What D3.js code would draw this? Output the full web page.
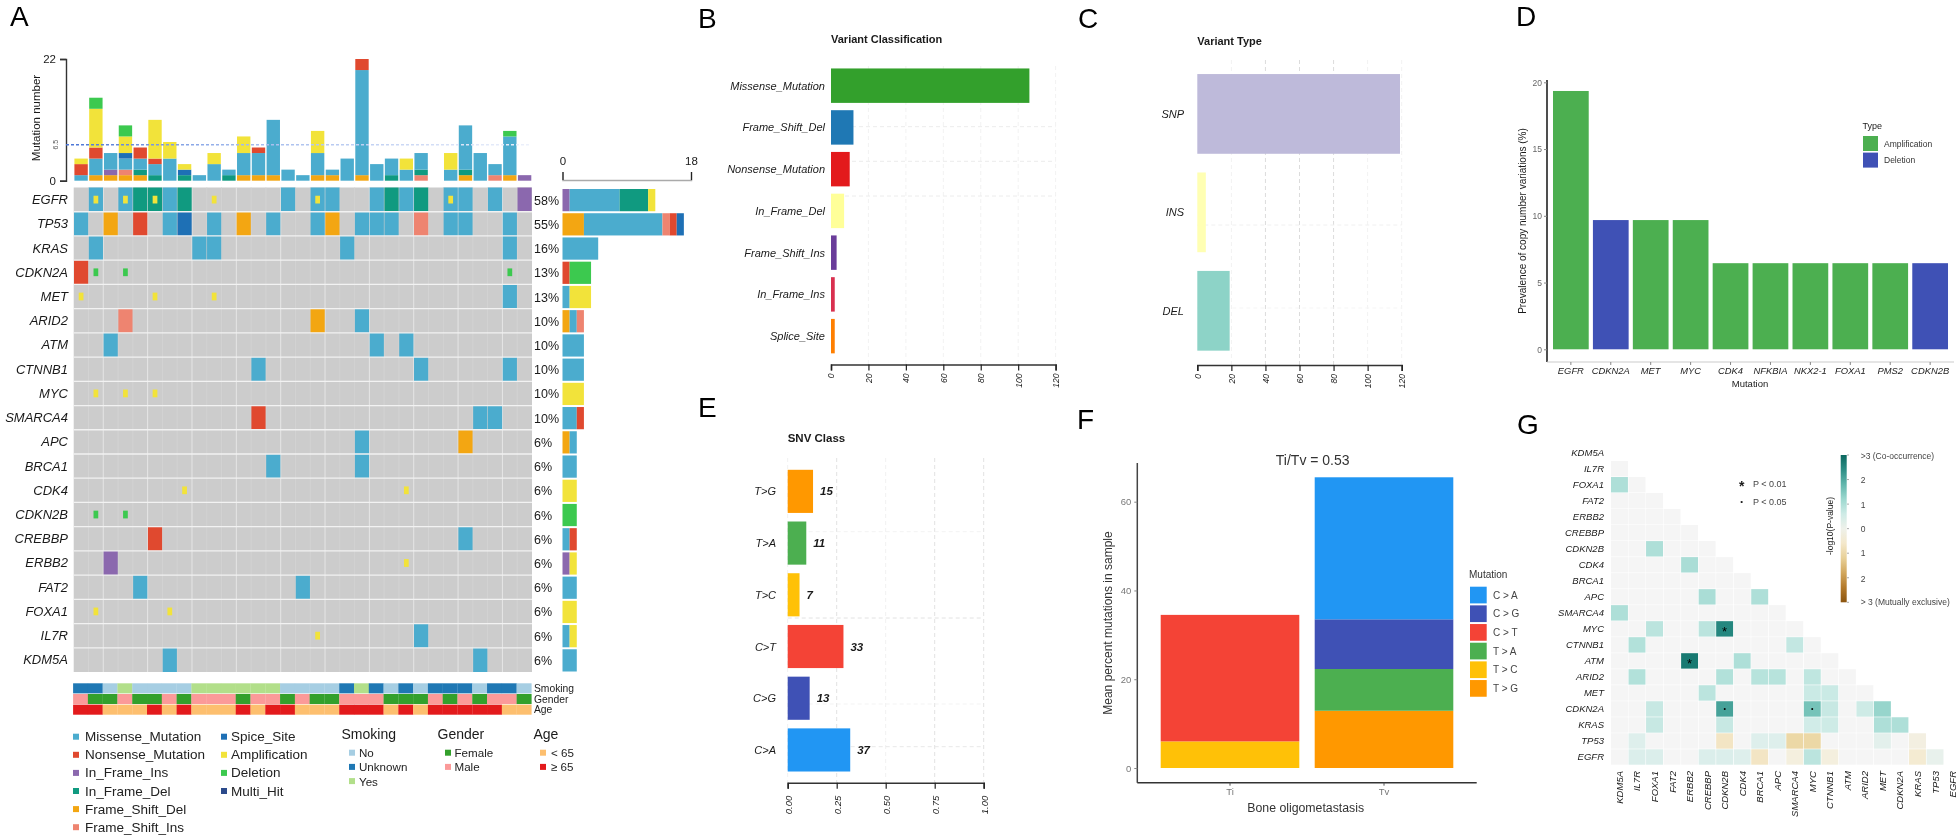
<!DOCTYPE html>
<html><head><meta charset="utf-8">
<script src="https://cdn.jsdelivr.net/npm/d3@7/dist/d3.min.js"></script>
<style>
html,body{margin:0;padding:0;background:#fff}
svg{display:block;filter:blur(0.45px)}
text{font-family:"Liberation Sans",Arial,sans-serif;fill:#1a1a1a}
</style></head><body><svg id="c" width="1960" height="840"></svg>
<script>
// ---------- Panel A data ----------
const genes = ["EGFR","TP53","KRAS","CDKN2A","MET","ARID2","ATM","CTNNB1","MYC","SMARCA4","APC","BRCA1","CDK4","CDKN2B","CREBBP","ERBB2","FAT2","FOXA1","IL7R","KDM5A"];
const genePct = ["58%","55%","16%","13%","13%","10%","10%","10%","10%","10%","6%","6%","6%","6%","6%","6%","6%","6%","6%","6%"];
const variantNames = ["Missense_Mutation","Nonsense_Mutation","In_Frame_Ins","In_Frame_Del","Frame_Shift_Del","Frame_Shift_Ins","Splice_Site","Amplification","Deletion","Multi_Hit"];
const variantColors = ["#4bacce","#e0492f","#8b68ae","#109a80","#f3a612","#ee8470","#1e70b5","#f2e33a","#3cc94f","#2b4a8b"];
// per-gene cells: [sample column, variant]
const cellsEGFR = [[1,"Missense_Mutation"],[3,"Missense_Mutation"],[4,"In_Frame_Del"],[5,"In_Frame_Del"],[6,"Missense_Mutation"],[7,"In_Frame_Del"],[14,"Missense_Mutation"],[16,"Missense_Mutation"],[17,"Missense_Mutation"],[20,"Missense_Mutation"],[21,"In_Frame_Del"],[22,"Missense_Mutation"],[23,"In_Frame_Del"],[25,"Missense_Mutation"],[26,"Missense_Mutation"],[28,"Missense_Mutation"],[30,"In_Frame_Ins"]];
const cellsTP53 = [[0,"Missense_Mutation"],[2,"Frame_Shift_Del"],[4,"Nonsense_Mutation"],[6,"Missense_Mutation"],[7,"Splice_Site"],[9,"Missense_Mutation"],[11,"Frame_Shift_Del"],[13,"Missense_Mutation"],[16,"Missense_Mutation"],[17,"Frame_Shift_Del"],[19,"Missense_Mutation"],[20,"Missense_Mutation"],[21,"Missense_Mutation"],[23,"Frame_Shift_Ins"],[25,"Missense_Mutation"],[26,"Missense_Mutation"],[29,"Missense_Mutation"]];
const cellsKRAS = [[1,"Missense_Mutation"],[8,"Missense_Mutation"],[9,"Missense_Mutation"],[18,"Missense_Mutation"],[29,"Missense_Mutation"]];
const cellsCDKN2A = [[0,"Nonsense_Mutation"]];
const cellsMET = [[29,"Missense_Mutation"]];
const cellsARID2 = [[3,"Frame_Shift_Ins"],[16,"Frame_Shift_Del"],[19,"Missense_Mutation"]];
const cellsATM = [[2,"Missense_Mutation"],[20,"Missense_Mutation"],[22,"Missense_Mutation"]];
const cellsCTNNB1 = [[12,"Missense_Mutation"],[23,"Missense_Mutation"],[29,"Missense_Mutation"]];
const cellsSMARCA4 = [[12,"Nonsense_Mutation"],[27,"Missense_Mutation"],[28,"Missense_Mutation"]];
const cellsAPC = [[19,"Missense_Mutation"],[26,"Frame_Shift_Del"]];
const cellsBRCA1 = [[13,"Missense_Mutation"],[19,"Missense_Mutation"]];
const cellsCREBBP = [[5,"Nonsense_Mutation"],[26,"Missense_Mutation"]];
const cellsERBB2 = [[2,"In_Frame_Ins"]];
const cellsFAT2 = [[4,"Missense_Mutation"],[15,"Missense_Mutation"]];
const cellsIL7R = [[23,"Missense_Mutation"]];
const cellsKDM5A = [[6,"Missense_Mutation"],[27,"Missense_Mutation"]];
// copy-number ticks: [gene, sample column, variant]
const cnvTicks = [["EGFR",1,"Amplification"],["EGFR",3,"Amplification"],["EGFR",5,"Amplification"],["EGFR",9,"Amplification"],["EGFR",16,"Amplification"],["EGFR",25,"Amplification"],["CDKN2A",1,"Deletion"],["CDKN2A",3,"Deletion"],["CDKN2A",29,"Deletion"],["MET",0,"Amplification"],["MET",5,"Amplification"],["MET",9,"Amplification"],["MYC",1,"Amplification"],["MYC",3,"Amplification"],["MYC",5,"Amplification"],["CDK4",7,"Amplification"],["CDK4",22,"Amplification"],["CDKN2B",1,"Deletion"],["CDKN2B",3,"Deletion"],["ERBB2",22,"Amplification"],["FOXA1",1,"Amplification"],["FOXA1",6,"Amplification"],["IL7R",16,"Amplification"]];
// top bars: mutation count per sample per variant
const tmbFrameShiftDel = [0,1,1,1,1,0,0,0,0,0,0,1,1,1,0,0,1,1,0,1,0,0,0,0,0,0,1,0,0,1,0];
const tmbFrameShiftIns = [0,0,0,1,0,0,0,0,0,0,0,0,0,0,0,0,0,0,0,0,0,0,0,1,0,0,0,0,1,0,0];
const tmbInFrameIns    = [0,0,1,0,0,0,0,0,0,0,0,0,0,0,0,0,0,0,0,0,0,0,0,0,0,0,0,0,0,0,1];
const tmbInFrameDel    = [0,0,0,0,1,1,0,1,0,0,1,0,0,0,0,0,0,0,0,0,0,1,0,1,0,0,1,0,0,0,0];
const tmbMissense      = [1,3,3,2,2,2,4,0,1,3,1,4,4,10,2,1,4,1,4,19,3,3,2,3,0,2,8,5,2,7,0];
const tmbSplice        = [0,0,0,1,0,0,0,1,0,0,0,0,0,0,0,0,0,0,0,0,0,0,0,0,0,0,0,0,0,0,0];
const tmbNonsense      = [2,2,0,0,2,1,0,0,0,0,0,0,1,0,0,0,0,0,0,2,0,0,0,0,0,0,0,0,0,0,0];
const tmbAmplification = [1,7,0,3,0,7,3,1,0,2,0,3,0,0,0,0,4,0,0,0,0,0,2,0,0,3,0,0,0,0,0];
const tmbDeletion      = [0,2,0,2,0,0,0,0,0,0,0,0,0,0,0,0,0,0,0,0,0,0,0,0,0,0,0,0,0,1,0];
const tmbMedian = 6.5;
// right bars: gene counts per variant
const rightFrameShiftDel = [0,3,0,0,0,1,0,0,0,0,1,0,0,0,0,0,0,0,0,0];
const rightInFrameIns    = [1,0,0,0,0,0,0,0,0,0,0,0,0,0,0,1,0,0,0,0];
const rightNonsenseFirst = [0,0,0,1,0,0,0,0,0,0,0,0,0,0,0,0,0,0,0,0];
const rightMissense      = [7,11,5,0,1,1,3,3,0,2,1,2,0,0,1,0,2,0,1,2];
const rightInFrameDel    = [4,0,0,0,0,0,0,0,0,0,0,0,0,0,0,0,0,0,0,0];
const rightFrameShiftIns = [0,1,0,0,0,1,0,0,0,0,0,0,0,0,0,0,0,0,0,0];
const rightNonsense      = [0,1,0,0,0,0,0,0,0,1,0,0,0,0,1,0,0,0,0,0];
const rightSplice        = [0,1,0,0,0,0,0,0,0,0,0,0,0,0,0,0,0,0,0,0];
const rightAmplification = [1,0,0,0,3,0,0,0,3,0,0,0,2,0,0,1,0,2,1,0];
const rightDeletion      = [0,0,0,3,0,0,0,0,0,0,0,0,0,2,0,0,0,0,0,0];
const annSmoking = ["Unknown","Unknown","No","Yes","No","No","No","No","Yes","Yes","Yes","Yes","Yes","Yes","No","No","No","No","Unknown","Yes","Unknown","No","Unknown","No","Unknown","Unknown","Unknown","No","Unknown","Unknown","No"];
const annGender = ["Male","Female","Female","Male","Female","Female","Male","Female","Male","Male","Male","Female","Male","Male","Female","Male","Female","Female","Male","Male","Male","Female","Female","Female","Male","Female","Male","Female","Male","Male","Female"];
const annAge = ["≥ 65","≥ 65","< 65","< 65","< 65","≥ 65","< 65","≥ 65","< 65","< 65","< 65","≥ 65","< 65","≥ 65","≥ 65","< 65","< 65","< 65","≥ 65","≥ 65","≥ 65","< 65","≥ 65","< 65","≥ 65","≥ 65","≥ 65","≥ 65","≥ 65","< 65","< 65"];
const smokingKeys = ["No","Unknown","Yes"], smokingColors = ["#a6cee3","#1f78b4","#b2df8a"];
const genderKeys = ["Female","Male"], genderColors = ["#33a02c","#fb9a99"];
const ageKeys = ["< 65","≥ 65"], ageColors = ["#fdbf6f","#e31a1c"];
// ---------- Panel B ----------
const classNames = ["Missense_Mutation","Frame_Shift_Del","Nonsense_Mutation","In_Frame_Del","Frame_Shift_Ins","In_Frame_Ins","Splice_Site"];
const classCounts = [106,12,10,7,3,2,2];
const classColors = ["#33a02c","#1f78b4","#e31a1c","#ffff99","#6a3d9a","#d9304f","#ff7f00"];
const classTicks = [0,20,40,60,80,100,120];
// ---------- Panel C ----------
const typeNames = ["SNP","INS","DEL"];
const typeCounts = [119,5,19];
const typeColors = ["#bebada","#ffffb3","#8dd3c7"];
const typeTicks = [0,20,40,60,80,100,120];
// ---------- Panel D ----------
const cnvGenes = ["EGFR","CDKN2A","MET","MYC","CDK4","NFKBIA","NKX2-1","FOXA1","PMS2","CDKN2B"];
const cnvPrev = [19.35,9.68,9.68,9.68,6.45,6.45,6.45,6.45,6.45,6.45];
const cnvType = ["Amplification","Deletion","Amplification","Amplification","Amplification","Amplification","Amplification","Amplification","Amplification","Deletion"];
const cnvTicksY = [0,5,10,15,20];
// ---------- Panel E ----------
const snvNames = ["T>G","T>A","T>C","C>T","C>G","C>A"];
const snvCounts = [15,11,7,33,13,37];
const snvColors = ["#ff9800","#4caf50","#ffc107","#f44336","#3f51b5","#2196f3"];
const snvTicks = [0,0.25,0.5,0.75,1];
// ---------- Panel F ----------
const tiGroups = ["Ti","Tv"];
const mutLegend = ["C > A","C > G","C > T","T > A","T > C","T > G"];
const mutColors = ["#2196f3","#3f51b5","#f44336","#4caf50","#ffc107","#ff9800"];
const tiValues = [0,0,28.5,0,6,0];
const tvValues = [32,11.2,0,9.4,0,12.9];
const meanTicks = [0,20,40,60];
// ---------- Panel G ----------
const somaticGenes = ["KDM5A","IL7R","FOXA1","FAT2","ERBB2","CREBBP","CDKN2B","CDK4","BRCA1","APC","SMARCA4","MYC","CTNNB1","ATM","ARID2","MET","CDKN2A","KRAS","TP53","EGFR"];
// [row gene, column gene, signed -log10 P, mark]
const somaticHits = [
 ["FOXA1","KDM5A",1.0],["CDKN2B","FOXA1",1.0],["CDK4","ERBB2",1.05],["APC","CREBBP",1.05],["APC","BRCA1",1.0],["SMARCA4","KDM5A",1.0],
 ["MYC","FOXA1",0.85],["MYC","CREBBP",0.85],["MYC","CDKN2B",2.5,"*"],["CTNNB1","IL7R",0.95],["CTNNB1","SMARCA4",0.75],
 ["ATM","ERBB2",2.7,"*"],["ATM","CDK4",1.0],["ARID2","IL7R",0.95],["ARID2","CDKN2B",0.95],["ARID2","BRCA1",0.9],["ARID2","APC",0.9],["ARID2","MYC",0.8],
 ["MET","CREBBP",0.85],["MET","MYC",0.65],["MET","CTNNB1",0.65],
 ["CDKN2A","FOXA1",0.7],["CDKN2A","CDKN2B",2.1,"•"],["CDKN2A","MYC",1.6,"•"],["CDKN2A","CTNNB1",0.7],["CDKN2A","ARID2",0.6],["CDKN2A","MET",1.25],
 ["KRAS","FOXA1",0.7],["KRAS","CDKN2B",0.7],["KRAS","MYC",0.55],["KRAS","CTNNB1",0.6],["KRAS","MET",1.0],["KRAS","CDKN2A",1.0],
 ["TP53","IL7R",0.35],["TP53","CDKN2B",-0.7],["TP53","BRCA1",0.35],["TP53","APC",0.35],["TP53","SMARCA4",-1.05],["TP53","MYC",-1.05],["TP53","MET",0.25],["TP53","KRAS",-0.25],
 ["EGFR","IL7R",0.4],["EGFR","FOXA1",0.4],["EGFR","CREBBP",0.4],["EGFR","CDKN2B",0.4],["EGFR","CDK4",0.35],["EGFR","BRCA1",-0.7],["EGFR","SMARCA4",-0.3],["EGFR","MYC",0.85],["EGFR","CTNNB1",-0.3],["EGFR","KRAS",-0.5],["EGFR","TP53",0.15]
];
const logLabels = [[3,">3 (Co-occurrence)"],[2,"2"],[1,"1"],[0,"0"],[-1,"1"],[-2,"2"],[-3,"> 3 (Mutually exclusive)"]];

// ---------- Drawing ----------
const svg = d3.select("#c");
function label(g,x,y,t,o={}){
  return g.append("text").attr("x",x).attr("y",y).text(t)
    .attr("font-size",o.size||10).attr("text-anchor",o.anchor||"start")
    .attr("font-style",o.style||null).attr("font-weight",o.weight||null)
    .attr("dominant-baseline",o.mid?"central":null)
    .attr("transform",o.rot?`rotate(${o.rot} ${x} ${y})`:null)
    .style("fill",o.fill||null);
}
[["A",10,26],["B",698,28],["C",1078,28],["D",1516,26],["E",698,417],["F",1077,429],["G",1517,434]]
  .forEach(p=>label(svg,p[1],p[2],p[0],{size:28,fill:"#000"}));

/* ===== Panel A ===== */
const A = svg.append("g");
const colIds = d3.range(annAge.length);
const xCol = d3.scaleBand().domain(colIds).range([73.7,532]);
const yGene = d3.scaleBand().domain(genes).range([187.5,672]);
const yTop = d3.scaleLinear().domain([0,22]).range([180.7,59]);
const xRight = d3.scaleLinear().domain([0,18]).range([562.5,691]);
const variantColor = d3.scaleOrdinal(variantNames,variantColors);

// top stacked bars
const topSeries = [["Frame_Shift_Del",tmbFrameShiftDel],["Frame_Shift_Ins",tmbFrameShiftIns],["In_Frame_Ins",tmbInFrameIns],["In_Frame_Del",tmbInFrameDel],["Missense_Mutation",tmbMissense],["Splice_Site",tmbSplice],["Nonsense_Mutation",tmbNonsense],["Amplification",tmbAmplification],["Deletion",tmbDeletion]];
const topStack = d3.stack().keys(d3.range(topSeries.length)).value((c,k)=>topSeries[k][1][c])(colIds);
A.append("g").selectAll("g").data(topStack).join("g").attr("fill",(s,i)=>variantColor(topSeries[i][0]))
 .selectAll("rect").data(s=>s.map((d,i)=>({d,i}))).join("rect")
 .attr("x",o=>xCol(o.i)+0.7).attr("width",xCol.bandwidth()-1.4)
 .attr("y",o=>yTop(o.d[1])).attr("height",o=>yTop(o.d[0])-yTop(o.d[1]));
const topAxis = d3.axisLeft(yTop).tickValues([0,22]).tickSize(6).tickPadding(4);
const topG = A.append("g").attr("transform","translate(66,0)").call(topAxis);
topG.selectAll("text").attr("font-size",11.5).attr("font-family","Liberation Sans");
topG.selectAll("path,line").attr("stroke","#333").attr("stroke-width",1.4);
label(A,40,118,"Mutation number",{size:11.5,anchor:"middle",rot:-90});
label(A,56,yTop(tmbMedian),tmbMedian,{size:7,anchor:"middle",rot:-90,mid:true,fill:"#555"});
const defs = svg.append("defs");
const fade = defs.append("linearGradient").attr("id","fade").attr("gradientUnits","userSpaceOnUse")
  .attr("x1",66).attr("x2",532).attr("y1",0).attr("y2",0);
fade.append("stop").attr("offset",0).attr("stop-color","#4a74d6");
fade.append("stop").attr("offset",0.35).attr("stop-color","#9db6ec");
fade.append("stop").attr("offset",1).attr("stop-color","#edf1fb");
A.append("line").attr("x1",66).attr("x2",530).attr("y1",yTop(tmbMedian)).attr("y2",yTop(tmbMedian))
 .attr("stroke","url(#fade)").attr("stroke-width",1.3).attr("stroke-dasharray","3,2");

// grid background
A.append("rect").attr("x",xCol.range()[0]).attr("width",xCol.range()[1]-xCol.range()[0])
 .attr("y",yGene.range()[0]).attr("height",yGene.range()[1]-yGene.range()[0]).attr("fill","#cccccc");
A.append("g").selectAll("line").data(colIds.slice(1)).join("line")
 .attr("x1",c=>xCol(c)).attr("x2",c=>xCol(c)).attr("y1",yGene.range()[0]).attr("y2",yGene.range()[1])
 .attr("stroke",c=>c%3==2?"#ececec":"#d4d4d4").attr("stroke-width",0.8);
// mutation cells
const perGene = [["EGFR",cellsEGFR],["TP53",cellsTP53],["KRAS",cellsKRAS],["CDKN2A",cellsCDKN2A],["MET",cellsMET],["ARID2",cellsARID2],["ATM",cellsATM],["CTNNB1",cellsCTNNB1],["SMARCA4",cellsSMARCA4],["APC",cellsAPC],["BRCA1",cellsBRCA1],["CREBBP",cellsCREBBP],["ERBB2",cellsERBB2],["FAT2",cellsFAT2],["IL7R",cellsIL7R],["KDM5A",cellsKDM5A]];
const flatCells = perGene.flatMap(([g,arr])=>arr.map(([c,v])=>({g,c,v})));
A.append("g").selectAll("rect").data(flatCells).join("rect")
 .attr("x",d=>xCol(d.c)+0.3).attr("width",xCol.bandwidth()-0.6)
 .attr("y",d=>yGene(d.g)).attr("height",yGene.bandwidth()).attr("fill",d=>variantColor(d.v));
// white row separators
A.append("g").selectAll("line").data(genes.slice(1)).join("line")
 .attr("x1",xCol.range()[0]).attr("x2",xCol.range()[1]).attr("y1",g=>yGene(g)).attr("y2",g=>yGene(g))
 .attr("stroke","#f2f2f2").attr("stroke-width",1.3);
// CNV ticks
const tickW = xCol.bandwidth()*0.32, tickH = yGene.bandwidth()*0.32;
A.append("g").selectAll("rect").data(cnvTicks).join("rect")
 .attr("x",d=>xCol(d[1])+xCol.bandwidth()/2-tickW/2).attr("width",tickW)
 .attr("y",d=>yGene(d[0])+yGene.bandwidth()/2-tickH/2).attr("height",tickH).attr("fill",d=>variantColor(d[2]));
// gene labels and percents
A.append("g").selectAll("text").data(genes).join("text").text(g=>g)
 .attr("x",68).attr("y",g=>yGene(g)+yGene.bandwidth()/2).attr("dominant-baseline","central")
 .attr("text-anchor","end").attr("font-size",13).attr("font-style","italic");
A.append("g").selectAll("text").data(genes).join("text").text((g,i)=>genePct[i])
 .attr("x",534).attr("y",g=>yGene(g)+yGene.bandwidth()/2+1).attr("dominant-baseline","central")
 .attr("font-size",12.5);
// right bars
const rightSeries = [["In_Frame_Ins",rightInFrameIns],["Frame_Shift_Del",rightFrameShiftDel],["Nonsense_Mutation",rightNonsenseFirst],["Missense_Mutation",rightMissense],["In_Frame_Del",rightInFrameDel],["Frame_Shift_Ins",rightFrameShiftIns],["Nonsense_Mutation",rightNonsense],["Splice_Site",rightSplice],["Amplification",rightAmplification],["Deletion",rightDeletion]];
const rightStack = d3.stack().keys(d3.range(rightSeries.length)).value((i,k)=>rightSeries[k][1][i])(d3.range(genes.length));
A.append("g").selectAll("g").data(rightStack).join("g").attr("fill",(s,i)=>variantColor(rightSeries[i][0]))
 .selectAll("rect").data(s=>s.map((d,i)=>({d,i}))).join("rect")
 .attr("x",o=>xRight(o.d[0])).attr("width",o=>xRight(o.d[1])-xRight(o.d[0]))
 .attr("y",o=>yGene(genes[o.i])+1.5).attr("height",yGene.bandwidth()-2);
const rAxis = d3.axisTop(xRight).tickValues([0,18]).tickSize(8).tickPadding(7);
const rG = A.append("g").attr("transform","translate(0,180)").call(rAxis);
rG.selectAll("text").attr("font-size",11.5).attr("font-family","Liberation Sans");
rG.select(".domain").attr("stroke","#aaa").attr("stroke-width",1.5);
rG.selectAll("line").attr("stroke","#222").attr("stroke-width",1.2);

// annotation tracks
const annRows = [["Smoking",annSmoking,d3.scaleOrdinal(smokingKeys,smokingColors)],["Gender",annGender,d3.scaleOrdinal(genderKeys,genderColors)],["Age",annAge,d3.scaleOrdinal(ageKeys,ageColors)]];
const yAnn = d3.scaleBand().domain(annRows.map(r=>r[0])).range([683.3,715.3]);
annRows.forEach(([name,vals,col])=>{
  A.append("g").selectAll("rect").data(vals).join("rect")
   .attr("x",(v,i)=>xCol(i)-0.6).attr("width",xCol.bandwidth()+0.2)
   .attr("y",yAnn(name)).attr("height",yAnn.bandwidth()-0.6).attr("fill",v=>col(v));
  label(A,534,yAnn(name)+yAnn.bandwidth()/2,name,{size:10.3,mid:true});
});
// legends
function swatches(g,keys,colors,xSq,xTxt,yStart,dy,sq,size){
  const row = g.append("g").selectAll("g").data(keys).join("g");
  row.append("rect").attr("x",xSq-sq/2).attr("width",sq).attr("height",sq)
     .attr("y",(k,i)=>yStart+i*dy-sq/2).attr("fill",(k,i)=>colors[i]);
  row.append("text").text(k=>k).attr("x",xTxt).attr("y",(k,i)=>yStart+i*dy)
     .attr("dominant-baseline","central").attr("font-size",size).style("fill","#222");
}
const leg1 = ["Missense_Mutation","Nonsense_Mutation","In_Frame_Ins","In_Frame_Del","Frame_Shift_Del","Frame_Shift_Ins"];
const leg2 = ["Spice_Site","Amplification","Deletion","Multi_Hit"];
swatches(A,leg1,["Missense_Mutation","Nonsense_Mutation","In_Frame_Ins","In_Frame_Del","Frame_Shift_Del","Frame_Shift_Ins"].map(variantColor),76,85,736.7,18.1,6,13.5);
swatches(A,leg2,["Splice_Site","Amplification","Deletion","Multi_Hit"].map(variantColor),224,231,736.7,18.1,6,13.5);
label(A,341.5,739,"Smoking",{size:14});label(A,437.5,739,"Gender",{size:14});label(A,533.5,739,"Age",{size:14});
swatches(A,smokingKeys,smokingColors,352,359,752.7,14.2,6,11.6);
swatches(A,genderKeys,genderColors,448,454.5,752.7,14.2,6,11.6);
swatches(A,ageKeys,ageColors,543,551,752.7,14.2,6,11.6);

/* helper: horizontal bars with bottom axis (B, C) */
function hPanel(o){
  const g = svg.append("g");
  const x = d3.scaleLinear().domain(o.domain).range(o.xr);
  const y = d3.scaleBand().domain(o.names).range(o.yr).paddingInner(o.pad).paddingOuter(o.pad/2);
  const gridG = g.append("g");
  o.vGrid.forEach(t=>gridG.append("line").attr("x1",x(t)).attr("x2",x(t)).attr("y1",o.gridTop).attr("y2",o.axisY)
     .attr("stroke",o.vStrong&&o.vStrong.includes(t)?"#dcdcdc":"#f2f2f2").attr("stroke-dasharray","4,3"));
  o.hGrid.forEach(h=>gridG.append("line").attr("x1",o.xr[0]).attr("x2",o.xr[1]).attr("y1",h[0]).attr("y2",h[0])
     .attr("stroke",h[1]).attr("stroke-dasharray","4,3"));
  g.append("g").selectAll("rect").data(o.names).join("rect")
   .attr("x",x(0)).attr("width",(n,i)=>x(o.values[i])-x(0)).attr("y",n=>y(n)).attr("height",y.bandwidth())
   .attr("fill",(n,i)=>o.colors[i]).attr("fill-opacity",o.opacity||1);
  g.append("g").selectAll("text").data(o.names).join("text").text(n=>n)
   .attr("x",o.labX).attr("y",n=>y(n)+y.bandwidth()/2).attr("text-anchor","end").attr("dominant-baseline","central")
   .attr("font-size",o.labSize).attr("font-style","italic");
  const ax = d3.axisBottom(x).tickValues(o.ticks).tickFormat(o.fmt||d3.format("d")).tickSize(6).tickPadding(3);
  const a = g.append("g").attr("transform",`translate(0,${o.axisY})`).call(ax);
  a.select(".domain").attr("stroke","#333").attr("stroke-width",1.6);
  a.selectAll("line").attr("stroke","#222").attr("stroke-width",1.2);
  a.selectAll("text").attr("font-size",o.tickSize||8.5).attr("font-family","Liberation Sans").attr("font-style","italic")
   .attr("transform","rotate(-90)").attr("x",-9).attr("y",0).attr("dy","0.35em").attr("text-anchor","end");
  label(g,o.xr[0],o.titleY,o.title,{size:o.titleSize||11,weight:"bold"});
  return {g,x,y};
}
hPanel({names:classNames,values:classCounts,colors:classColors,domain:[0,120],xr:[831,1055.6],yr:[64.8,357],pad:0.175,
  labX:825,labSize:11,ticks:classTicks,axisY:364.5,title:"Variant Classification",titleY:43,
  vGrid:classTicks.slice(1),vStrong:[],gridTop:66,
  hGrid:[[126.7,"#ececec"],[161.3,"#ececec"],[196,"#ececec"]]});
hPanel({names:typeNames,values:typeCounts,colors:typeColors,domain:[0,120],xr:[1197.3,1401.7],yr:[64.7,360],pad:0.19,
  labX:1184,labSize:11,ticks:typeTicks,axisY:365,title:"Variant Type",titleY:45,
  vGrid:typeTicks.slice(1),vStrong:[40,60,80],gridTop:60,
  hGrid:[[225,"#f0f0f0"],[308,"#f5f5f5"]]});

/* ===== Panel D ===== */
{
 const g = svg.append("g");
 const x = d3.scaleBand().domain(cnvGenes).range([1551,1950]).paddingInner(0.105).paddingOuter(0.05);
 const y = d3.scaleLinear().domain([0,20]).range([349.3,82.3]);
 const col = d3.scaleOrdinal(["Amplification","Deletion"],["#4caf50","#3f51b5"]);
 g.append("g").selectAll("rect").data(cnvGenes).join("rect")
  .attr("x",n=>x(n)).attr("width",x.bandwidth()).attr("y",(n,i)=>y(cnvPrev[i])).attr("height",(n,i)=>y(0)-y(cnvPrev[i]))
  .attr("fill",(n,i)=>col(cnvType[i]));
 g.append("line").attr("x1",1547).attr("x2",1547).attr("y1",80).attr("y2",362).attr("stroke","#222").attr("stroke-width",1.6);
 g.append("line").attr("x1",1547).attr("x2",1954).attr("y1",362).attr("y2",362).attr("stroke","#ccc").attr("stroke-width",1.2);
 const ay = g.append("g").attr("transform","translate(1547,0)").call(d3.axisLeft(y).tickValues(cnvTicksY).tickSize(3).tickPadding(2));
 ay.select(".domain").remove();
 ay.selectAll("text").attr("font-size",8.5).attr("font-family","Liberation Sans").style("fill","#666");
 ay.selectAll("line").attr("stroke","#888");
 const ax = g.append("g").attr("transform","translate(0,362)").call(d3.axisBottom(x).tickSize(3).tickPadding(2));
 ax.select(".domain").remove();
 ax.selectAll("line").attr("stroke","#888");
 ax.selectAll("text").attr("font-size",9.4).attr("font-style","italic").attr("font-family","Liberation Sans").style("fill","#222");
 label(g,1750,387,"Mutation",{size:9.5,anchor:"middle"});
 label(g,1522,221,"Prevalence of copy number variations (%)",{size:10,anchor:"middle",rot:-90,mid:true});
 label(g,1862.5,129,"Type",{size:9});
 ["Amplification","Deletion"].forEach((t,i)=>{
   g.append("rect").attr("x",1863).attr("y",136+i*16.6).attr("width",15).attr("height",15).attr("fill",col(t));
   label(g,1884,143.5+i*16.6,t,{size:8.5,mid:true,fill:"#333"});
 });
}

/* ===== Panel E ===== */
{
 const total = d3.sum(snvCounts);
 const g = svg.append("g");
 const x = d3.scaleLinear().domain([0,1]).range([787.7,983.7]);
 const y = d3.scaleBand().domain(snvNames).range([465.5,775.8]).paddingInner(0.166).paddingOuter(0.083);
 snvTicks.forEach(t=>g.append("line").attr("x1",x(t)).attr("x2",x(t)).attr("y1",458).attr("y2",782)
   .attr("stroke",[0.25,0.75,1].includes(t)?"#e2e2e2":"#f1f1f1").attr("stroke-dasharray","4,3"));
 [[618,"#e2e2e2"],[531.7,"#f3f3f3"],[704,"#f3f3f3"],[746.7,"#e8e8e8"]].forEach(h=>
   g.append("line").attr("x1",787.7).attr("x2",983.7).attr("y1",h[0]).attr("y2",h[0]).attr("stroke",h[1]).attr("stroke-dasharray","4,3"));
 g.append("g").selectAll("rect").data(snvNames).join("rect")
  .attr("x",x(0)).attr("width",(n,i)=>x(snvCounts[i]/total)-x(0)).attr("y",n=>y(n)).attr("height",y.bandwidth())
  .attr("fill",(n,i)=>snvColors[i]);
 g.append("g").selectAll("text").data(snvNames).join("text").text((n,i)=>snvCounts[i])
  .attr("x",(n,i)=>x(snvCounts[i]/total)+7).attr("y",n=>y(n)+y.bandwidth()/2).attr("dominant-baseline","central")
  .attr("font-size",11.5).attr("font-style","italic").attr("font-weight","bold");
 g.append("g").selectAll("text.c").data(snvNames).join("text").attr("class","c").text(n=>n)
  .attr("x",776).attr("y",n=>y(n)+y.bandwidth()/2).attr("text-anchor","end").attr("dominant-baseline","central")
  .attr("font-size",11).attr("font-style","italic");
 const a = g.append("g").attr("transform","translate(0,782.7)")
   .call(d3.axisBottom(x).tickValues(snvTicks).tickFormat(d3.format(".2f")).tickSize(6));
 a.select(".domain").attr("stroke","#333").attr("stroke-width",1.6);
 a.selectAll("line").attr("stroke","#222").attr("stroke-width",1.2);
 a.selectAll("text").attr("font-size",9.5).attr("font-style","italic").attr("font-family","Liberation Sans")
  .attr("transform","rotate(-90)").attr("x",-13).attr("y",0).attr("dy","0.35em").attr("text-anchor","end");
 label(g,787.7,441.7,"SNV Class",{size:11.5,weight:"bold"});
}

/* ===== Panel F ===== */
{
 const g = svg.append("g");
 const x = d3.scaleBand().domain(tiGroups).range([1153,1461]).paddingInner(0.1).paddingOuter(0.05);
 const y = d3.scaleLinear().domain([0,60]).range([768,501.7]);
 const order = [5,4,3,2,1,0]; // bottom-up stacking: T>G, T>C, T>A, C>T, C>G, C>A
 tiGroups.forEach(grp=>{
   const vals = grp==="Ti"?tiValues:tvValues;
   let cum=0;
   order.forEach(i=>{
     if(!vals[i]) return;
     g.append("rect").attr("x",x(grp)).attr("width",x.bandwidth())
      .attr("y",y(cum+vals[i])).attr("height",y(cum)-y(cum+vals[i])).attr("fill",mutColors[i]);
     cum+=vals[i];
   });
 });
 g.append("line").attr("x1",1137.3).attr("x2",1137.3).attr("y1",463).attr("y2",782.7).attr("stroke","#444").attr("stroke-width",1.5);
 g.append("line").attr("x1",1137.3).attr("x2",1476.7).attr("y1",782.7).attr("y2",782.7).attr("stroke","#333").attr("stroke-width",1.5);
 const ay = g.append("g").attr("transform","translate(1137.3,0)").call(d3.axisLeft(y).tickValues(meanTicks).tickSize(3).tickPadding(3));
 ay.select(".domain").remove();ay.selectAll("line").attr("stroke","#888");
 ay.selectAll("text").attr("font-size",9.5).attr("font-family","Liberation Sans").style("fill","#777");
 const ax = g.append("g").attr("transform","translate(0,782.7)").call(d3.axisBottom(x).tickSize(3).tickPadding(3));
 ax.select(".domain").remove();ax.selectAll("line").attr("stroke","#555");
 ax.selectAll("text").attr("font-size",9.5).attr("font-family","Liberation Sans").style("fill","#777");
 label(g,1312.7,465,"Ti/Tv = 0.53",{size:14,anchor:"middle",fill:"#333"});
 label(g,1108,623,"Mean percent mutations in sample",{size:12,anchor:"middle",rot:-90,mid:true,fill:"#333"});
 label(g,1305.7,811.5,"Bone oligometastasis",{size:12.3,anchor:"middle",fill:"#333"});
 label(g,1469,578,"Mutation",{size:10,fill:"#333"});
 mutLegend.forEach((t,i)=>{
   g.append("rect").attr("x",1470).attr("y",586.7+i*18.67).attr("width",16.7).attr("height",16.7).attr("fill",mutColors[i]);
   label(g,1493,595+i*18.67,t,{size:10,mid:true,fill:"#444"});
 });
}

/* ===== Panel G ===== */
{
 const g = svg.append("g");
 const xG = d3.scaleBand().domain(somaticGenes).range([1610.7,1961.3]);
 const yG = d3.scaleBand().domain(somaticGenes).range([444.7,765]);
 const colorG = v=>d3.interpolateBrBG(0.5+v/3*0.4);
 const hit = new Map(somaticHits.map(h=>[h[0]+"|"+h[1],h]));
 const cells=[];
 somaticGenes.forEach((r,ri)=>somaticGenes.slice(0,ri).forEach(c=>{
   const h=hit.get(r+"|"+c); cells.push({r,c,v:h?h[2]:0,m:h?h[3]:null});
 }));
 g.append("g").selectAll("rect").data(cells).join("rect")
  .attr("x",d=>xG(d.c)+0.3).attr("y",d=>yG(d.r)+0.3).attr("width",xG.bandwidth()-0.6).attr("height",yG.bandwidth()-0.6)
  .attr("fill",d=>d.v===0?"#f5f5f5":colorG(d.v));
 g.append("g").selectAll("text").data(cells.filter(d=>d.m)).join("text").text(d=>d.m)
  .attr("x",d=>xG(d.c)+xG.bandwidth()/2).attr("y",d=>yG(d.r)+yG.bandwidth()/2+(d.m==="*"?3:0)).attr("text-anchor","middle")
  .attr("dominant-baseline","central").attr("font-size",d=>d.m==="*"?13:7).style("fill","#000");
 g.append("g").selectAll("text").data(somaticGenes).join("text").text(n=>n)
  .attr("x",1604).attr("y",n=>yG(n)+yG.bandwidth()/2).attr("text-anchor","end").attr("dominant-baseline","central")
  .attr("font-size",9.5).attr("font-style","italic");
 g.append("g").selectAll("text").data(somaticGenes).join("text").text(n=>n)
  .attr("transform",n=>`translate(${xG(n)+xG.bandwidth()/2},771) rotate(-90)`).attr("text-anchor","end").attr("dominant-baseline","central")
  .attr("font-size",9.5).attr("font-style","italic");
 label(g,1741.7,486,"*",{size:14,anchor:"middle",mid:true,weight:"bold"});
 label(g,1753,484,"P < 0.01",{size:9,mid:true,fill:"#444"});
 label(g,1741.7,501.7,"•",{size:8,anchor:"middle",mid:true});
 label(g,1753,501.7,"P < 0.05",{size:9,mid:true,fill:"#444"});
 const yBar = d3.scaleLinear().domain([-3,3]).range([602.3,455]);
 const grad = defs.append("linearGradient").attr("id","brbg").attr("x1",0).attr("x2",0).attr("y1",1).attr("y2",0);
 d3.range(0,1.001,0.1).forEach(t=>grad.append("stop").attr("offset",t).attr("stop-color",colorG(-3+6*t)));
 g.append("rect").attr("x",1840.7).attr("y",455).attr("width",6).attr("height",147.3).attr("fill","url(#brbg)");
 const ys = [456,480,505,529,553,579,602];
 logLabels.forEach((l,i)=>{
   label(g,1860.7,ys[i],l[1],{size:8.5,mid:true,fill:"#444"});
   g.append("line").attr("x1",1847).attr("x2",1849).attr("y1",yBar(l[0])).attr("y2",yBar(l[0])).attr("stroke","#aaa");
 });
 label(g,1830,526,"-log10(P-value)",{size:8.5,anchor:"middle",rot:-90,mid:true});
}
</script></body></html>
